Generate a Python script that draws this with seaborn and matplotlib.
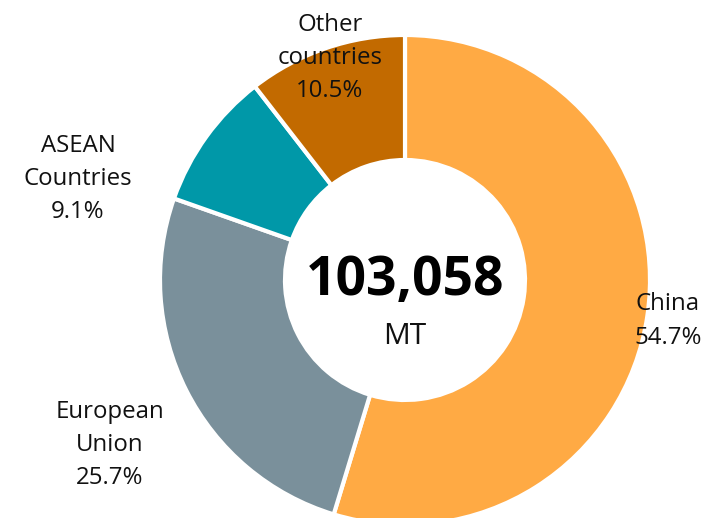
import matplotlib
matplotlib.use("Agg")
import matplotlib.pyplot as plt
import seaborn as sns

# data
regions = ["China", "European Union", "ASEAN Countries", "Other countries"]
label_text = ["China", "European\nUnion", "ASEAN\nCountries", "Other\ncountries"]
shares = [54.7, 25.7, 9.1, 10.5]
total_mt = 103058
colors = ["#FFAA44", "#7A909B", "#0098A8", "#C26A00"]

# label anchors (pixels, origin bottom-left)
label_pos = [(668, 197), (110, 73), (78, 339), (330, 460)]

sns.set_theme(style="white")
plt.rcParams["font.family"] = ["Open Sans", "DejaVu Sans"]

fig = plt.figure(figsize=(7.05, 5.18), dpi=100)
ax = fig.add_axes([0, 0, 1, 1])

wedges, _ = ax.pie(
    shares, colors=colors, startangle=90, counterclock=False,
    radius=245, center=(405, 238),
    wedgeprops=dict(width=125, edgecolor="white", linewidth=3),
)

for txt, val, (x, y) in zip(label_text, shares, label_pos):
    ax.text(x, y, f"{txt}\n{val}%", ha="center", va="center",
            fontsize=17.3, linespacing=1.5, color="#111111")

ax.text(405, 237, f"{total_mt:,}", ha="center", va="center",
        fontsize=38.5, fontweight="bold", color="black")
ax.text(405, 181, "MT", ha="center", va="center", fontsize=21.5, color="#111111")

ax.set_xlim(0, 705)
ax.set_ylim(0, 518)
ax.set_aspect("equal")
ax.axis("off")

fig.savefig("out.png", dpi=100)
